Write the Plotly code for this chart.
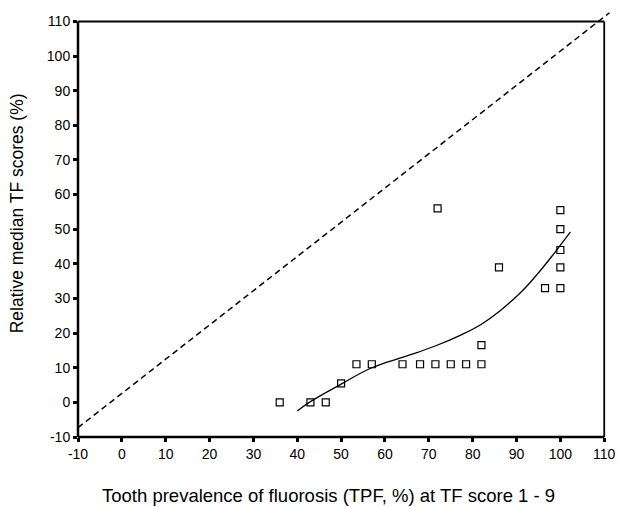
import plotly.graph_objects as go

# Scatter data (TPF %, relative median TF score %)
tpf = [36, 43, 46.5, 50, 53.5, 57, 64, 68, 71.5, 75, 78.5, 82, 82, 72, 86, 96.5, 100, 100, 100, 100, 100]
rel = [0, 0, 0, 5.5, 11, 11, 11, 11, 11, 11, 11, 11, 16.5, 56, 39, 33, 33, 39, 44, 50, 55.5]

# Fitted curve
curve_x = [40, 43, 50.2, 57, 64.5, 71.3, 77.4, 81.9, 86.4, 91, 94.8, 98.5, 102.3]
curve_y = [-2.5, 0.2, 5.4, 10.0, 13.2, 16.2, 19.5, 22.5, 26.6, 31.8, 37.1, 42.9, 49.2]

# Reference (dashed) line
ref_x = [-10, 111.2]
ref_y = [-7.3, 112.5]

tick_vals = [-10, 0, 10, 20, 30, 40, 50, 60, 70, 80, 90, 100, 110]
tick_text = ["-10", "0", "10", "20", "30", "40", "50", "60", "70", "80", "90", "100", "110"]

x_title = "Tooth prevalence of fluorosis (TPF, %) at TF score 1 - 9"
y_title = "Relative median TF scores (%)"

x_range = [-10, 112]
y_range = [-10, 113]
frame_max = 110

W, H = 620, 507
ML, MR, MT, MB = 78, 4, 11, 70
PW, PH = W - ML - MR, H - MT - MB

font_family = "Liberation Sans, Arial, Helvetica, sans-serif"

fig = go.Figure()
fig.add_trace(go.Scatter(x=ref_x, y=ref_y, mode="lines",
                         line=dict(color="black", width=1.5, dash="6px,4px"),
                         showlegend=False, hoverinfo="skip"))
fig.add_trace(go.Scatter(x=curve_x, y=curve_y, mode="lines",
                         line=dict(color="black", width=1.3, shape="spline", smoothing=1.2),
                         showlegend=False))
fig.add_trace(go.Scatter(x=tpf, y=rel, mode="markers",
                         marker=dict(symbol="square-open", size=7, color="black",
                                     line=dict(width=1.2, color="black")),
                         showlegend=False))

# frame in domain fractions computed from axis ranges
fx = (frame_max - x_range[0]) / (x_range[1] - x_range[0])
fy = (frame_max - y_range[0]) / (y_range[1] - y_range[0])
frame = [
    dict(x0=0, x1=0, y0=0, y1=fy, w=2.5),     # left
    dict(x0=0, x1=fx, y0=0, y1=0, w=2.5),     # bottom
    dict(x0=0, x1=fx, y0=fy, y1=fy, w=2),     # top
    dict(x0=fx, x1=fx, y0=0, y1=fy, w=1.8),   # right
]
for f in frame:
    fig.add_shape(type="line", xref="x domain", yref="y domain",
                  x0=f["x0"], x1=f["x1"], y0=f["y0"], y1=f["y1"],
                  line=dict(color="black", width=f["w"]), layer="above")

axis_common = dict(
    showgrid=False, zeroline=False, showline=False,
    ticks="outside", ticklen=4, tickwidth=2.5, tickcolor="black",
    tickfont=dict(family=font_family, size=14, color="black"),
    tickmode="array", tickvals=tick_vals, ticktext=tick_text,
)

# axis titles as annotations (pixel targets converted to paper fractions)
xt_cx, xt_cy = 330, 496
yt_cx, yt_cy = 17, 213
fig.add_annotation(text=x_title, xref="paper", yref="paper",
                   x=(xt_cx - ML) / PW, y=(H - MB - xt_cy) / PH,
                   xanchor="center", yanchor="middle", showarrow=False,
                   font=dict(family=font_family, size=18.5, color="black"))
fig.add_annotation(text=y_title, xref="paper", yref="paper",
                   x=(yt_cx - ML) / PW, y=(H - MB - yt_cy) / PH,
                   xanchor="center", yanchor="middle", showarrow=False, textangle=-90,
                   font=dict(family=font_family, size=17.5, color="black"))

fig.update_layout(
    width=W, height=H,
    margin=dict(l=ML, r=MR, t=MT, b=MB),
    plot_bgcolor="white", paper_bgcolor="white",
    font=dict(family=font_family, color="black"),
    xaxis=dict(range=x_range, **axis_common),
    yaxis=dict(range=y_range, **axis_common),
)

fig.write_html("out.html")
